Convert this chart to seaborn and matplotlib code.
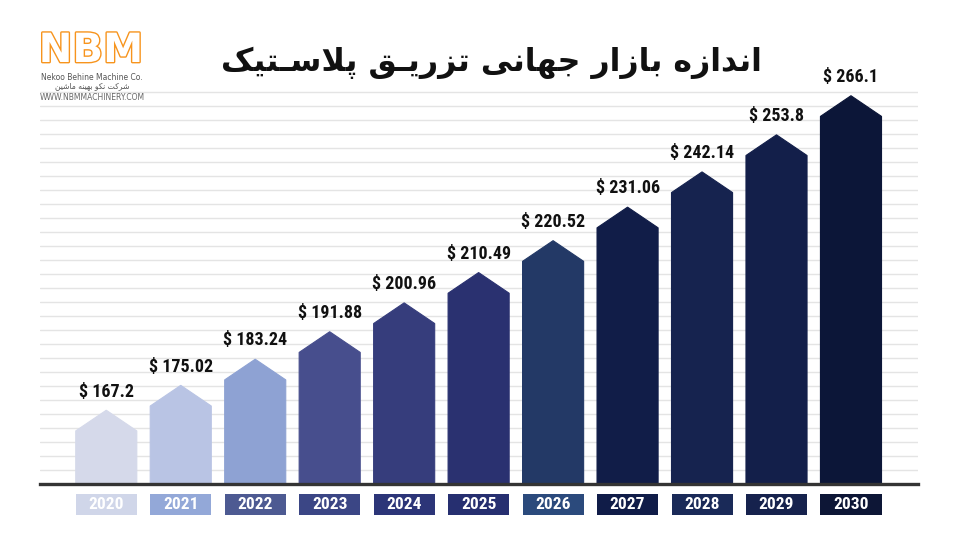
import numpy as np
import pandas as pd
import seaborn as sns
import matplotlib
matplotlib.use("Agg")
import matplotlib.pyplot as plt
from matplotlib import font_manager as fm
from matplotlib.patches import Polygon, Rectangle
from matplotlib.transforms import blended_transform_factory
import matplotlib.patheffects as pe

# ---------------- data ----------------
years = ["2020", "2021", "2022", "2023", "2024", "2025", "2026", "2027", "2028", "2029", "2030"]
values = [167.2, 175.02, 183.24, 191.88, 200.96, 210.49, 220.52, 231.06, 242.14, 253.8, 266.1]
value_labels = ["$ 167.2", "$ 175.02", "$ 183.24", "$ 191.88", "$ 200.96", "$ 210.49",
                "$ 220.52", "$ 231.06", "$ 242.14", "$ 253.8", "$ 266.1"]
bar_colors = ["#d5d9ea", "#b9c4e4", "#8ea2d3", "#474e8d", "#363d7c", "#2a3170",
              "#233966", "#111d48", "#16234f", "#131f4a", "#0c1638"]
box_colors = ["#d0d6e9", "#93a8d8", "#4d5a92", "#3b4685", "#2c3578", "#262f70",
              "#2b4a7c", "#101c48", "#1a2a58", "#16224d", "#0d1636"]
# title: "اندازه بازار جهانی تزریق پلاستیک" (shaped, visual order)
title_text = ("\uFB8F\uFEF4\uFE98\u0640\uFEB3\uFEFC\uFB58 "
              "\uFED6\u0640\uFEF3\uFEAD\uFEB0\uFE97 "
              "\uFEF0\uFEE7\uFE8E\uFEEC\uFE9F "
              "\uFEAD\uFE8D\uFEAF\uFE8E\uFE91 "
              "\uFEE9\uFEAF\uFE8D\uFEAA\uFEE7\uFE8D")
# "شرکت نکو بهینه ماشین" (shaped, visual order)
logo_fa = ("\uFEE6\uFEF4\uFEB7\uFE8E\uFEE3 "
           "\uFEEA\uFEE8\uFEF4\uFEEC\uFE91 "
           "\uFEEE\uFB91\uFEE7 "
           "\uFE96\uFB90\uFEAE\uFEB7")

df = pd.DataFrame({"year": years, "value": values})

# ---------------- fonts ----------------
sns.set_theme(style="white")
plt.rcParams["font.family"] = ["DejaVu Sans"]


def narrow_font(size):
    cands = []
    for f in fm.fontManager.ttflist:
        fn = f.fname.lower()
        if ("condensed" in fn or "narrow" in fn) and ("bold" in fn) and ("italic" not in fn) \
                and ("oblique" not in fn) and ("semi" not in fn) and ("extra" not in fn):
            cands.append(f.fname)
    pref = ["robotocondensed", "liberationsansnarrow", "opensans_condensed", "opensanscondensed",
            "dejavusanscondensed"]
    cands.sort(key=lambda p: next((i for i, k in enumerate(pref) if k in p.lower().replace("-", "").replace(" ", "")), 99))
    if cands:
        return fm.FontProperties(fname=cands[0], size=size)
    return fm.FontProperties(family="DejaVu Sans", weight="bold", stretch="condensed", size=size * 0.85)


lab_font = narrow_font(13)
year_font = narrow_font(12.5)

fig = plt.figure(figsize=(9.6, 5.4), dpi=100, facecolor="white")
ax = fig.add_axes([40 / 960, 56 / 540, 878 / 960, 394 / 540])

y0 = 144.0
ytop = y0 + 394 / 3.18
sns.barplot(data=df, x="year", y="value", hue="year", palette=bar_colors,
            legend=False, width=0.82, ax=ax, saturation=1)

ax.set_xlim(-0.89, 10.9)
ax.set_ylim(y0, ytop)

# gridlines
ax.set_yticks(y0 + 4.4 * np.arange(1, 29))
ax.yaxis.grid(True, color="#e4e4e4", lw=1.0)
ax.xaxis.grid(False)
ax.set_axisbelow(True)
ax.tick_params(left=False, bottom=False, labelleft=False, labelbottom=False)
ax.set_xlabel("")
ax.set_ylabel("")
for s in ["top", "left", "right"]:
    ax.spines[s].set_visible(False)
ax.spines["bottom"].set_color("#343434")
ax.spines["bottom"].set_linewidth(2.4)
ax.spines["bottom"].set_zorder(5)

# turn rectangles into pentagon "house" shapes
cap = 6.5
for patch, v, c in zip(list(ax.patches), values, bar_colors):
    x = patch.get_x()
    w = patch.get_width()
    patch.set_visible(False)
    poly = Polygon([(x, y0 - 5), (x, v - cap), (x + w / 2, v), (x + w, v - cap), (x + w, y0 - 5)],
                   closed=True, facecolor=c, edgecolor=c, lw=0.8, zorder=3)
    ax.add_patch(poly)

for i, (v, lab) in enumerate(zip(values, value_labels)):
    ax.annotate(lab, (i, v), xytext=(0, 7), textcoords="offset points",
                ha="center", va="bottom", fontproperties=lab_font,
                color="#111111", annotation_clip=False)

# year boxes
tr = blended_transform_factory(ax.transData, ax.transAxes)
for i, (yr, bc) in enumerate(zip(years, box_colors)):
    r = Rectangle((i - 0.41, -31 / 394), 0.82, 21 / 394, transform=tr,
                  facecolor=bc, edgecolor="none", clip_on=False, zorder=3)
    ax.add_patch(r)
    ax.text(i, -20.5 / 394, yr, transform=tr, ha="center", va="center",
            fontproperties=year_font, color="white", zorder=4)

# title
fig.text(0.512, 1 - 63 / 540, title_text, ha="center", va="center",
         fontsize=22.8, fontweight="bold", color="#111111", family=["DejaVu Sans"])

# logo
fig.text(91 / 960, 1 - 51 / 540, "NBM", ha="center", va="center", fontsize=29,
         fontweight="bold", color="white", family=["DejaVu Sans"],
         path_effects=[pe.Stroke(linewidth=2.0, foreground="#f7941d"), pe.Normal()])
fig.text(92 / 960, 1 - 77 / 540, "Nekoo Behine Machine Co.", ha="center", va="center",
         fontsize=5.5, color="#555555")
fig.text(92 / 960, 1 - 86 / 540, logo_fa, ha="center", va="center",
         fontsize=5.5, color="#555555", family=["DejaVu Sans"])
fig.text(92 / 960, 1 - 97 / 540, "WWW.NBMMACHINERY.COM", ha="center", va="center",
         fontsize=5.5, color="#666666")

fig.savefig("out.png", dpi=100, facecolor="white")
